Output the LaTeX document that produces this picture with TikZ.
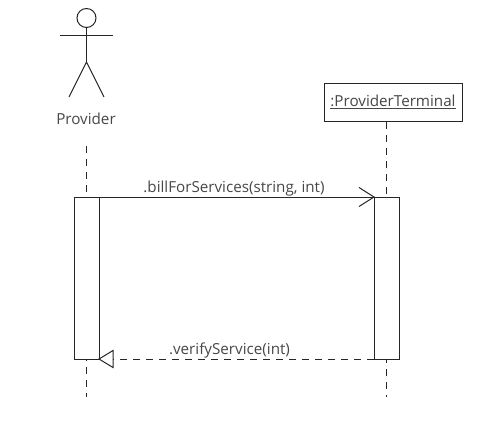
\documentclass[tikz,border=0pt]{standalone}
\usepackage{fontspec}
\setmainfont{Open Sans}
\usetikzlibrary{calc}
\tikzset{
  x=1pt,y=-1pt,
  ln/.style={draw=black!85,line width=1pt},
  life/.style={draw=black!85,line width=1pt,dash pattern=on 7pt off 6pt},
  lbl/.style={text=black!72,font=\fontsize{15.2}{18}\selectfont,inner sep=0pt},
  bar/.style={ln,fill=white,minimum width=25pt,minimum height=162pt,inner sep=0pt,outer sep=0pt},
  objbox/.style={ln,fill=white,minimum width=138pt,minimum height=38pt,inner sep=0pt,outer sep=0pt},
}
\begin{document}
\begin{tikzpicture}
\useasboundingbox (0,0) rectangle (497,422);
% actor
\node[ln,circle,minimum size=19pt,inner sep=0pt,outer sep=0pt] (head) at (86.5,18) {};
\coordinate (hip) at (86.5,62);
\coordinate (armL) at (60,35.5);
\coordinate (armR) at (113,35.5);
\coordinate (legL) at (69,97);
\coordinate (legR) at (104,97);
\draw[ln] (head.south) -- (hip);
\draw[ln] (armL) -- (armR);
\draw[ln] (legL) -- (hip) -- (legR);
\node[lbl] (provider) at (86,119) {Provider};
% object
\node[objbox] (term) at (393,103) {};
\node[lbl] (termlabel) at (393,101.5) {\underline{:ProviderTerminal}};
% lifelines
\coordinate (lifeAtop) at (86.5,146);
\coordinate (lifeAbot) at (86.5,397);
\coordinate (lifeBtop) at (386.5,122);
\coordinate (lifeBbot) at (386.5,397);
\draw[life] (lifeAtop) -- (lifeAbot);
\draw[life] (lifeBtop) -- (lifeBbot);
% activations
\node[bar] (barA) at (86.5,278) {};
\node[bar] (barB) at (386.5,278) {};
% call message
\coordinate (callS) at (barA.north east);
\coordinate (callE) at (barB.north west);
\draw[ln] (callS) -- (callE);
\draw[ln,line join=miter] ($(callE)+(-15,-9.5)$) -- (callE) -- ($(callE)+(-15,9.5)$);
\node[lbl] (calllabel) at (234,188.5) {.billForServices(string, int)};
% return message
\coordinate (retS) at (barB.south west);
\coordinate (retE) at (barA.south east);
\draw[life] (retS) -- ($(retE)+(14,0)$);
\draw[ln,line join=miter] (retE) -- ($(retE)+(14,-8.5)$) -- ($(retE)+(14,8.5)$) -- cycle;
\node[lbl] (retlabel) at (229.5,351) {.verifyService(int)};
\end{tikzpicture}
\end{document}
